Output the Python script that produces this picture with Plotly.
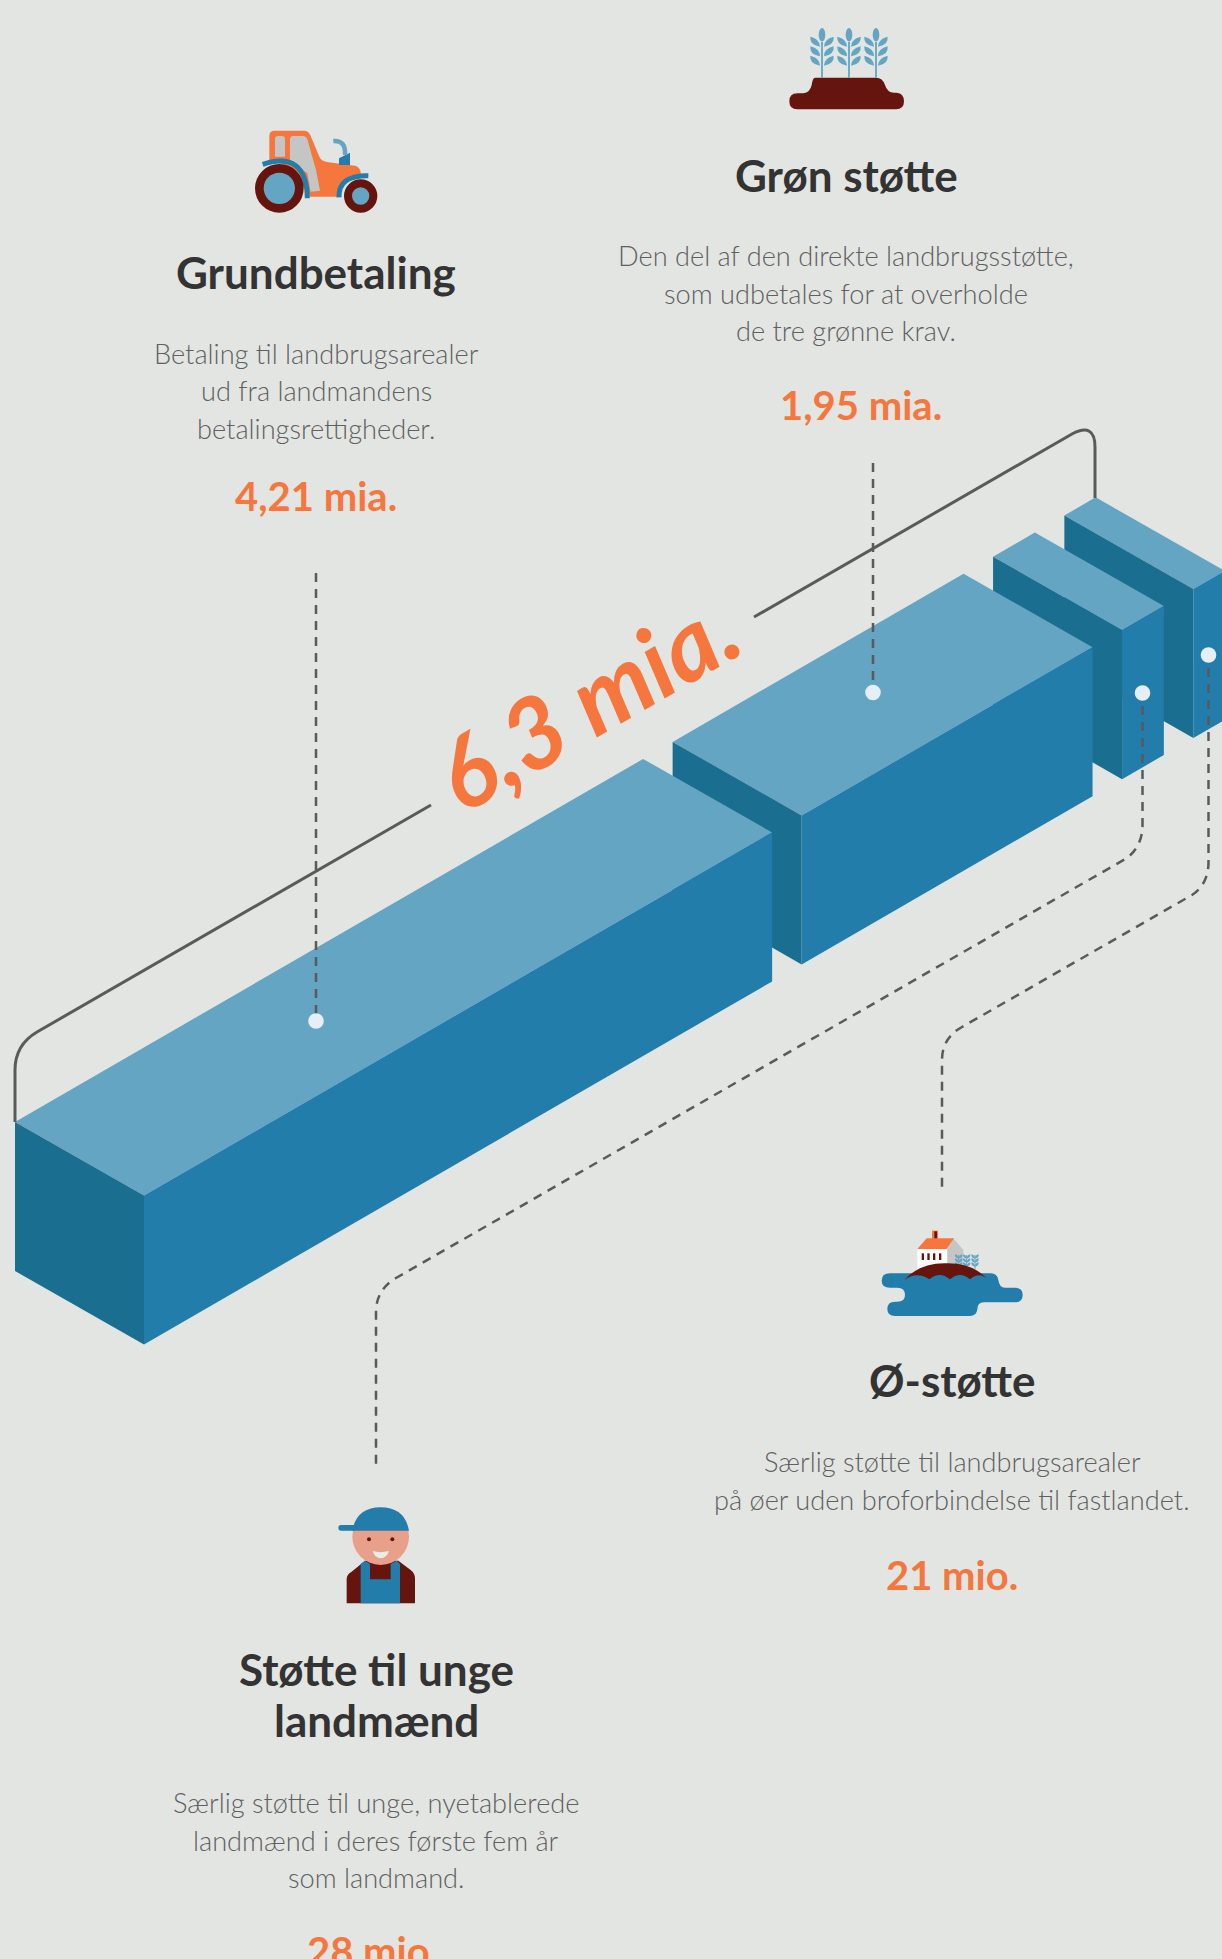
import re
import plotly.graph_objects as go

# ---------- data ----------
categories = ["Grundbetaling", "Grøn støtte", "Støtte til unge landmænd", "Ø-støtte"]
values_mia = [4.21, 1.95, 0.028, 0.021]
magnify = [1, 1, 10, 10]          # the two tiny bars are drawn at ten times the scale
total_label = "6,3 mia."

headings = ["Grundbetaling", "Grøn støtte", "Ø-støtte", "Støtte til unge", "landmænd"]
heading_pos = [(316, 272), (846, 175), (952, 1380), (376, 1669), (376, 1720)]

body_lines = ["Betaling til landbrugsarealer", "ud fra landmandens", "betalingsrettigheder.",
              "Den del af den direkte landbrugsstøtte,", "som udbetales for at overholde", "de tre grønne krav.",
              "Særlig støtte til landbrugsarealer", "på øer uden broforbindelse til fastlandet.",
              "Særlig støtte til unge, nyetablerede", "landmænd i deres første fem år", "som landmand."]
body_pos = [(316, 353.5), (316, 390.5), (316, 428),
            (846, 255.5), (846, 293), (846, 330),
            (952, 1461.5), (952, 1499),
            (376, 1802), (376, 1840), (376, 1877)]

amounts = ["4,21 mia.", "1,95 mia.", "21 mio.", "28 mio."]
amount_pos = [(316, 495.5), (861, 405), (952, 1574.5), (373, 1951)]

# ---------- style ----------
BG = "#e3e5e2"
TOP = "#63a5c3"
FRONT = "#227dab"
END = "#1a6f90"
ORANGE = "#f5773d"
MAROON = "#65140e"
DARK = "#333333"
BODY = "#606060"
LINE = "#5a5a5a"
DOT = "#e6eff5"
SKIN = "#e8a08a"
GRAY = "#c4c6c5"

PX_PER_MIA = 149.2
SLOPE = -0.578
DEPTH = (129, 73.5)
HEIGHT = 149
GAP = 29.5
START = (15, 1122)

fig = go.Figure()


def face(xs, ys, color):
    fig.add_trace(go.Scatter(x=xs + xs[:1], y=ys + ys[:1], mode="lines", fill="toself",
                             fillcolor=color, line=dict(width=0, color=color),
                             hoverinfo="skip", showlegend=False))


bars = []
lx, ly = START
for v, m in zip(values_mia, magnify):
    dx = v * m * PX_PER_MIA
    bars.append((lx, ly, dx))
    lx += dx + GAP
    ly += (dx + GAP) * SLOPE

for lx, ly, dx in reversed(bars):
    dy = dx * SLOPE
    fx, fy = lx + DEPTH[0], ly + DEPTH[1]
    face([lx, lx + dx, fx + dx, fx], [ly, ly + dy, fy + dy, fy], TOP)
    face([lx, fx, fx, lx], [ly, fy, fy + HEIGHT, ly + HEIGHT], END)
    face([fx, fx + dx, fx + dx, fx], [fy, fy + dy, fy + dy + HEIGHT, fy + HEIGHT], FRONT)

shapes = []


def mp(ox, oy, d, s=3.0):
    toks = re.findall(r"[MLQCZ]|-?\d+\.?\d*", d)
    out, i = [], 0
    for t in toks:
        if t in "MLQCZ":
            out.append(t)
        else:
            out.append(f"{(ox if i % 2 == 0 else oy) + float(t) / s:.2f}")
            i += 1
    return " ".join(out)


def fill(ox, oy, d, color):
    shapes.append(dict(type="path", path=mp(ox, oy, d), fillcolor=color, line=dict(width=0),
                       xref="x", yref="y"))


def stroke(ox, oy, d, color, w):
    shapes.append(dict(type="path", path=mp(ox, oy, d), fillcolor="rgba(0,0,0,0)",
                       line=dict(width=w, color=color), xref="x", yref="y"))


def circ(ox, oy, cx, cy, r, color, s=3.0):
    x, y, rr = ox + cx / s, oy + cy / s, r / s
    shapes.append(dict(type="circle", x0=x - rr, x1=x + rr, y0=y - rr, y1=y + rr,
                       fillcolor=color, line=dict(width=0), xref="x", yref="y"))


def ell(ox, oy, cx, cy, rx, ry, color, s=3.0):
    x, y = ox + cx / s, oy + cy / s
    shapes.append(dict(type="circle", x0=x - rx / s, x1=x + rx / s, y0=y - ry / s, y1=y + ry / s,
                       fillcolor=color, line=dict(width=0), xref="x", yref="y"))


# bracket
for p in ["M 15 1122 L 15 1070 Q 15 1045 37 1032 L 431 805",
          "M 754 617 L 1072 434 Q 1095 422 1095 447 L 1095 498"]:
    shapes.append(dict(type="path", path=p, fillcolor="rgba(0,0,0,0)",
                       line=dict(width=3, color=LINE), xref="x", yref="y"))

# leader lines
DASH = "9px,7px"
for p in ["M 316 573 L 316 1014",
          "M 873 463 L 873 685",
          "M 1142.5 706 L 1142.5 825 Q 1142.5 846 1127 858 L 396 1278 Q 376 1290 376 1312 L 376 1466",
          "M 1208.5 668 L 1208.5 862 Q 1208.5 884 1192 895 L 962 1027 Q 942 1038 942 1060 L 942 1188"]:
    shapes.append(dict(type="path", path=p, fillcolor="rgba(0,0,0,0)",
                       line=dict(width=2.5, color=LINE, dash=DASH), xref="x", yref="y"))
for x, y in [(316, 1021), (873, 692.5), (1142.5, 693), (1208.5, 655)]:
    circ(0, 0, x, y, 7.8, DOT, s=1.0)

# tractor
T = (230, 110)
fill(*T, "M 118 150 L 118 78 Q 118 62 134 62 L 222 62 Q 236 62 242 78 L 268 140 Q 274 153 290 156 L 375 167 Q 392 172 392 190 L 392 205 L 340 215 L 325 260 L 240 260 L 180 170 Z", ORANGE)
fill(*T, "M 135 140 L 135 88 Q 135 78 145 78 L 155 78 Q 165 78 165 88 L 165 140 Z", GRAY)
fill(*T, "M 180 150 L 180 88 Q 180 78 190 78 L 218 78 Q 228 78 232 88 L 258 180 L 270 242 L 242 245 L 232 190 Z", GRAY)
fill(*T, "M 327 165 L 327 145 L 360 128 L 360 165 Z", FRONT)
stroke(*T, "M 310 93 Q 348 90 345 135", TOP, 4.5)
stroke(*T, "M 98 163 Q 230 120 232 265", FRONT, 5)
stroke(*T, "M 327 262 Q 325 195 415 197", FRONT, 5)
circ(*T, 148, 235, 73, MAROON)
circ(*T, 148, 235, 47, TOP)
circ(*T, 392, 258, 50, MAROON)
circ(*T, 392, 258, 26, TOP)

# wheat
W = (770, 10)
fill(*W, "M 135 203 L 318 203 Q 338 203 345 225 Q 352 248 372 248 L 380 248 Q 402 250 402 274 Q 402 298 378 298 L 82 298 Q 58 298 58 274 Q 58 250 82 250 L 100 250 Q 120 248 125 225 Q 128 203 135 203 Z", MAROON)
for sx in (156, 237, 318):
    stroke(*W, f"M {sx} 95 L {sx} 203", TOP, 1.8)
    ell(*W, sx, 74, 10, 20, TOP)
    for ly_ in (95, 124, 152):
        fill(*W, f"M {sx-6} {ly_+15} Q {sx-38} {ly_+10} {sx-35} {ly_-15} Q {sx-6} {ly_-8} {sx-6} {ly_+15} Z", TOP)
        fill(*W, f"M {sx+6} {ly_+15} Q {sx+38} {ly_+10} {sx+35} {ly_-15} Q {sx+6} {ly_-8} {sx+6} {ly_+15} Z", TOP)

# island
I = (860, 1210)
fill(*I, "M 172 117 L 262 117 L 262 178 L 172 178 Z", "#ffffff")
fill(*I, "M 262 117 L 280 85 L 310 120 L 310 170 L 262 170 Z", GRAY)
fill(*I, "M 216 88 L 216 62 L 234 62 L 234 88 Z", ORANGE)
fill(*I, "M 223 88 L 223 64 L 231 64 L 231 88 Z", MAROON)
fill(*I, "M 172 117 L 200 85 L 282 85 L 260 117 Z", ORANGE)
for wx in (188, 205, 222, 240):
    fill(*I, f"M {wx-3} 130 L {wx+4} 130 L {wx+4} 150 L {wx-3} 150 Z", MAROON)
for sx in (296, 320, 345):
    stroke(*I, f"M {sx} 135 L {sx} 178", TOP, 1)
    for ty in (140, 152, 164):
        fill(*I, f"M {sx} {ty+6} Q {sx-12} {ty+4} {sx-11} {ty-7} Q {sx} {ty-5} {sx} {ty+6} Z", TOP)
        fill(*I, f"M {sx} {ty+6} Q {sx+12} {ty+4} {sx+11} {ty-7} Q {sx} {ty-5} {sx} {ty+6} Z", TOP)
fill(*I, "M 90 190 L 392 190 Q 412 190 415 210 Q 418 233 435 233 L 465 233 Q 488 233 488 255 Q 488 277 465 277 L 372 277 Q 352 277 352 298 Q 350 318 330 318 L 105 318 Q 82 318 82 297 Q 82 275 105 275 L 112 275 Q 135 275 135 255 Q 135 233 112 233 L 90 233 Q 65 233 65 212 Q 65 190 90 190 Z", FRONT)
fill(*I, "M 132 210 Q 180 158 258 160 Q 340 158 385 210 Q 360 182 330 208 Q 300 182 270 208 Q 239 182 208 208 Q 170 182 132 210 Z", MAROON)

# farmer
F = (320, 1490)
fill(*F, "M 80 340 L 80 265 Q 82 252 95 245 L 135 212 L 235 212 L 272 240 Q 285 250 285 265 L 285 340 Z", MAROON)
fill(*F, "M 122 340 L 122 222 L 135 212 L 150 222 L 150 268 L 212 268 L 212 222 L 230 212 L 240 222 L 240 340 Z", FRONT)
circ(*F, 182, 140, 85, SKIN)
fill(*F, "M 97 122 Q 110 52 182 52 Q 254 52 267 122 Z", FRONT)
fill(*F, "M 63 105 L 110 105 L 105 122 L 63 122 Q 55 122 55 113 Q 55 105 63 105 Z", FRONT)
circ(*F, 147, 148, 6, MAROON)
circ(*F, 217, 148, 6, MAROON)
fill(*F, "M 158 183 Q 182 190 207 183 Q 200 205 182 205 Q 165 205 158 183 Z", "#e6eeea")

# ---------- text ----------
ann = []


def text(t, xy, size, color, weight, family="Lato", **kw):
    ann.append(dict(text=t, x=xy[0], y=xy[1], xref="x", yref="y", showarrow=False,
                    xanchor="center", yanchor="middle",
                    font=dict(family=family, size=size, color=color, weight=weight), **kw))


for t, p in zip(headings, heading_pos):
    text(t, p, 44, DARK, 700)
for t, p in zip(body_lines, body_pos):
    text(t, p, 27.2, BODY, 300)
for t, p in zip(amounts, amount_pos):
    text(t, p, 40, ORANGE, 700)
ann.append(dict(text=f"<i><b>{total_label}</b></i>", x=586, y=700, xref="x", yref="y", showarrow=False,
                textangle=-30, xanchor="center", yanchor="middle",
                font=dict(family="Lato", size=98, color=ORANGE)))

fig.update_layout(
    width=1222, height=1959, margin=dict(l=0, r=0, t=0, b=0),
    paper_bgcolor=BG, plot_bgcolor=BG, showlegend=False,
    xaxis=dict(range=[0, 1222], visible=False, fixedrange=True),
    yaxis=dict(range=[1959, 0], visible=False, fixedrange=True),
    shapes=shapes, annotations=ann,
)
fig.write_html("out.html", config=dict(displayModeBar=False),
               post_script="document.body.style.margin='0';document.body.style.overflow='hidden';document.body.style.background='" + BG + "';")
